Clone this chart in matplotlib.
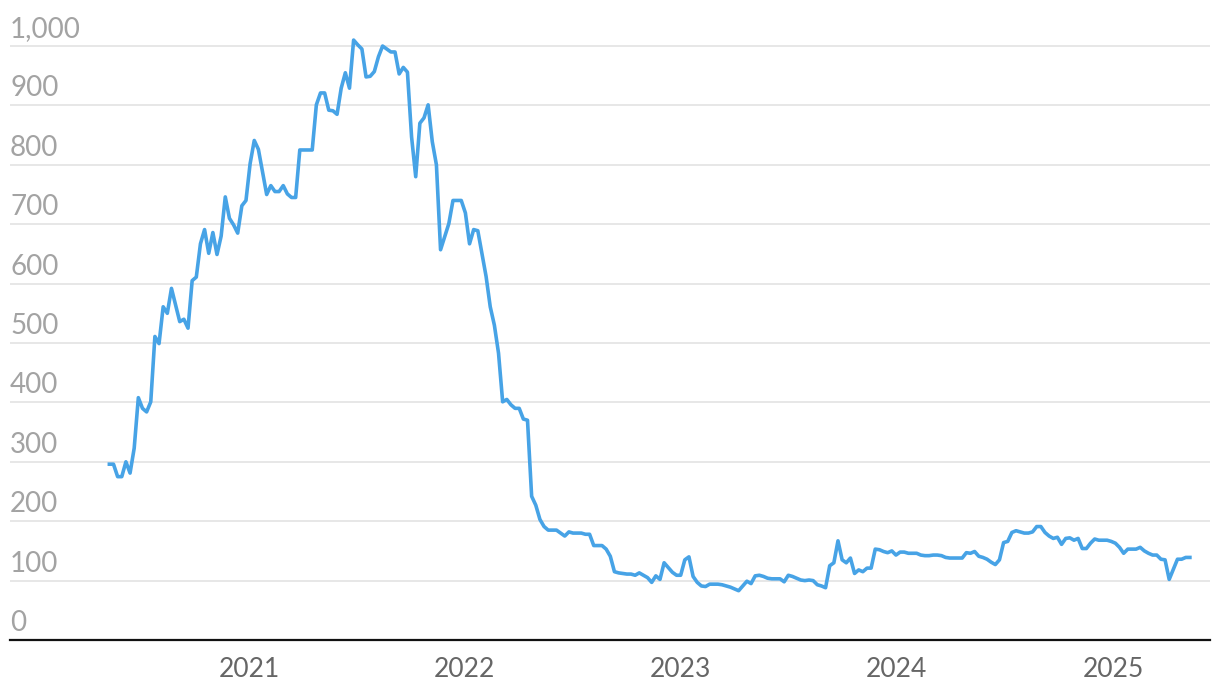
import matplotlib
matplotlib.use("Agg")
import matplotlib.pyplot as plt
import matplotlib.dates as mdates
import matplotlib.transforms as mtransforms
import pandas as pd

# weekly values, starting 2020-05-10
start_date = "2020-05-10"
values = [
    296, 296, 275, 275, 300, 281, 323, 408, 390, 384,
    401, 511, 499, 561, 550, 592, 564, 536, 540, 525,
    605, 611, 667, 691, 651, 686, 649, 680, 746, 710,
    699, 685, 731, 740, 802, 841, 826, 788, 750, 765,
    755, 755, 765, 751, 745, 745, 825, 825, 825, 825,
    901, 921, 921, 892, 891, 885, 929, 955, 929, 1010,
    1002, 995, 948, 949, 957, 982, 1000, 995, 990, 990,
    953, 964, 956, 847, 780, 870, 879, 901, 839, 800,
    657, 679, 701, 740, 740, 740, 719, 667, 691, 689,
    651, 612, 561, 530, 483, 401, 405, 396, 390, 390,
    372, 370, 242, 227, 203, 191, 185, 185, 185, 180,
    175, 182, 180, 180, 180, 178, 178, 159, 159, 159,
    153, 141, 115, 113, 112, 111, 111, 109, 113, 109,
    105, 97, 108, 102, 130, 122, 114, 109, 109, 135,
    140, 107, 97, 91, 90, 94, 94, 94, 93, 91,
    89, 86, 83, 91, 99, 95, 108, 109, 107, 104,
    103, 103, 103, 98, 109, 107, 104, 101, 100, 101,
    100, 93, 91, 88, 125, 130, 167, 135, 130, 138,
    112, 118, 115, 121, 121, 153, 152, 149, 147, 150,
    143, 148, 148, 146, 146, 146, 143, 142, 142, 143,
    143, 142, 139, 138, 138, 138, 138, 147, 146, 149,
    141, 139, 136, 131, 127, 135, 164, 166, 181, 184,
    182, 180, 180, 182, 191, 191, 181, 175, 171, 173,
    161, 171, 172, 168, 171, 154, 154, 163, 170, 168,
    168, 168, 166, 163, 156, 146, 153, 153, 153, 156,
    150, 146, 143, 143, 136, 135, 102, 119, 136, 136,
    139, 139,
]
y_ticks = [0, 100, 200, 300, 400, 500, 600, 700, 800, 900, 1000]
x_years = [2021, 2022, 2023, 2024, 2025]

dates = pd.date_range(start_date, periods=len(values), freq="7D")

plt.rcParams["font.family"] = ["Lato", "DejaVu Sans"]

fig = plt.figure(figsize=(12.2, 6.98), dpi=100)
ax = fig.add_axes([10 / 1220, 58 / 698, 1200 / 1220, 0.8765])

ax.plot(dates, values, color="#47a3e6", lw=2.6, solid_joinstyle="round",
        clip_on=False, zorder=3)

ax.set_xlim(pd.Timestamp("2019-11-24"), pd.Timestamp("2025-06-14"))
ax.set_ylim(0, 1030)

for v in y_ticks[1:]:
    ax.axhline(v, color="#e3e3e3", lw=1.2, zorder=1)

for s in ["top", "right", "left"]:
    ax.spines[s].set_visible(False)
ax.spines["bottom"].set_color("#111111")
ax.spines["bottom"].set_linewidth(1.6)
ax.spines["bottom"].set_zorder(4)

ax.set_yticks([])
trans = mtransforms.blended_transform_factory(ax.transAxes, ax.transData)
offset = mtransforms.ScaledTranslation(0, 9 / 100, fig.dpi_scale_trans)
for v in y_ticks:
    ax.text(0, v, f"{v:,}", transform=trans + offset, ha="left", va="baseline",
            fontsize=20, color="#a3a3a3", fontweight="normal")

ax.set_xticks([pd.Timestamp(f"{y}-01-01") for y in x_years])
ax.xaxis.set_major_formatter(mdates.DateFormatter("%Y"))
ax.tick_params(axis="x", length=0, pad=12, labelsize=19, labelcolor="#666666")

fig.savefig("out.png", dpi=100, facecolor="white")
